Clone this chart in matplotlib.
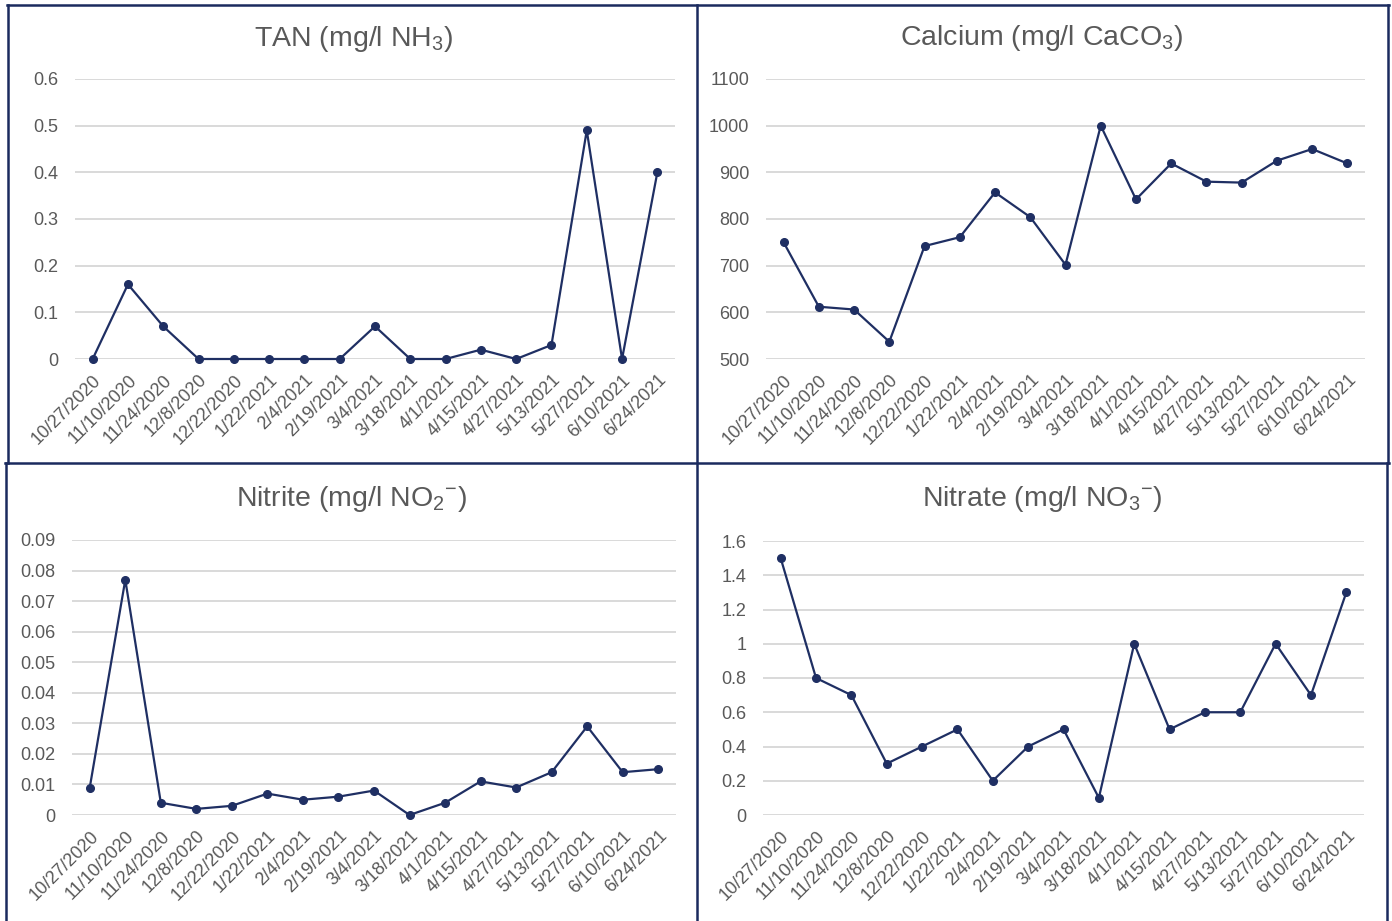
import matplotlib
matplotlib.use("Agg")
import matplotlib.pyplot as plt
from matplotlib.lines import Line2D

# sampling dates
dates = ["10/27/2020", "11/10/2020", "11/24/2020", "12/8/2020", "12/22/2020",
         "1/22/2021", "2/4/2021", "2/19/2021", "3/4/2021", "3/18/2021",
         "4/1/2021", "4/15/2021", "4/27/2021", "5/13/2021", "5/27/2021",
         "6/10/2021", "6/24/2021"]

tan = [0, 0.16, 0.07, 0, 0, 0, 0, 0, 0.07, 0, 0, 0.02, 0, 0.03, 0.49, 0, 0.40]
calcium = [750, 612, 606, 537, 742, 761, 857, 804, 702, 1000, 842, 919, 880,
           878, 925, 950, 919]
nitrite = [0.009, 0.077, 0.004, 0.002, 0.003, 0.007, 0.005, 0.006, 0.008, 0,
           0.004, 0.011, 0.009, 0.014, 0.029, 0.014, 0.015]
nitrate = [1.5, 0.8, 0.7, 0.3, 0.4, 0.5, 0.2, 0.4, 0.5, 0.1, 1.0, 0.5, 0.6,
           0.6, 1.0, 0.7, 1.3]

tan_ticks = [0, 0.1, 0.2, 0.3, 0.4, 0.5, 0.6]
ca_ticks = [500, 600, 700, 800, 900, 1000, 1100]
no2_ticks = [0, 0.01, 0.02, 0.03, 0.04, 0.05, 0.06, 0.07, 0.08, 0.09]
no3_ticks = [0, 0.2, 0.4, 0.6, 0.8, 1, 1.2, 1.4, 1.6]

font = "Liberation Sans"
plt.rcParams['font.family'] = [font, 'DejaVu Sans']
plt.rcParams['mathtext.fontset'] = 'custom'
plt.rcParams['mathtext.rm'] = font
plt.rcParams['mathtext.it'] = font

line_col = "#1f2f63"
border_col = "#1a2a5e"
text_col = "#595959"
grid_col = "#d9d9d9"

W, H = 1392, 921
fig = plt.figure(figsize=(W / 100, H / 100), dpi=100)


def px_axes(left, top, right, bottom):
    return fig.add_axes([left / W, 1 - bottom / H, (right - left) / W, (bottom - top) / H])


def panel(ax, values, ticks, title, title_xy):
    x = list(range(len(dates)))
    ax.plot(x, values, color=line_col, lw=1.6, marker="o", ms=5.5, clip_on=False, zorder=3)
    ax.set_xlim(-0.5, len(dates) - 0.5)
    ax.set_ylim(ticks[0], ticks[-1])
    ax.set_yticks(ticks)
    ax.set_yticklabels([f"{t:g}" for t in ticks])
    ax.set_xticks(x)
    ax.set_xticklabels(dates, rotation=45, ha="right", rotation_mode="anchor")
    ax.grid(axis="y", color=grid_col, lw=1.4)
    ax.set_axisbelow(True)
    for s in ax.spines.values():
        s.set_visible(False)
    ax.tick_params(length=0, labelsize=13, colors=text_col)
    ax.tick_params(axis="y", pad=12)
    ax.tick_params(axis="x", pad=9)
    fig.text(title_xy[0] / W, 1 - title_xy[1] / H, title, fontsize=20.5,
             color=text_col, ha="center", va="center")


ax1 = px_axes(75, 79, 675, 359)
panel(ax1, tan, tan_ticks, r"TAN (mg/l NH$_3$)", (354, 39))

ax2 = px_axes(766, 79, 1365, 359)
panel(ax2, calcium, ca_ticks, r"Calcium (mg/l CaCO$_3$)", (1042, 38))

ax3 = px_axes(72, 540, 676, 815)
panel(ax3, nitrite, no2_ticks, r"Nitrite (mg/l NO$_2$$^{\mathregular{-}}$)", (351, 499))

ax4 = px_axes(763, 541, 1364, 815)
panel(ax4, nitrate, no3_ticks, r"Nitrate (mg/l NO$_3$$^{\mathregular{-}}$)", (1042, 499))

# panel frames
def hline(y, x0, x1):
    fig.add_artist(Line2D([x0 / W, x1 / W], [1 - y / H, 1 - y / H], color=border_col, lw=1.8))


def vline(x, y0, y1):
    fig.add_artist(Line2D([x / W, x / W], [1 - y0 / H, 1 - y1 / H], color=border_col, lw=1.8))

hline(5, 7, 1389)
hline(463, 5, 1389)
vline(8, 5, 463)
vline(697, 5, 921)
vline(1388, 5, 463)
vline(6, 463, 921)
vline(1387, 463, 921)

fig.savefig("out.png", dpi=100)
